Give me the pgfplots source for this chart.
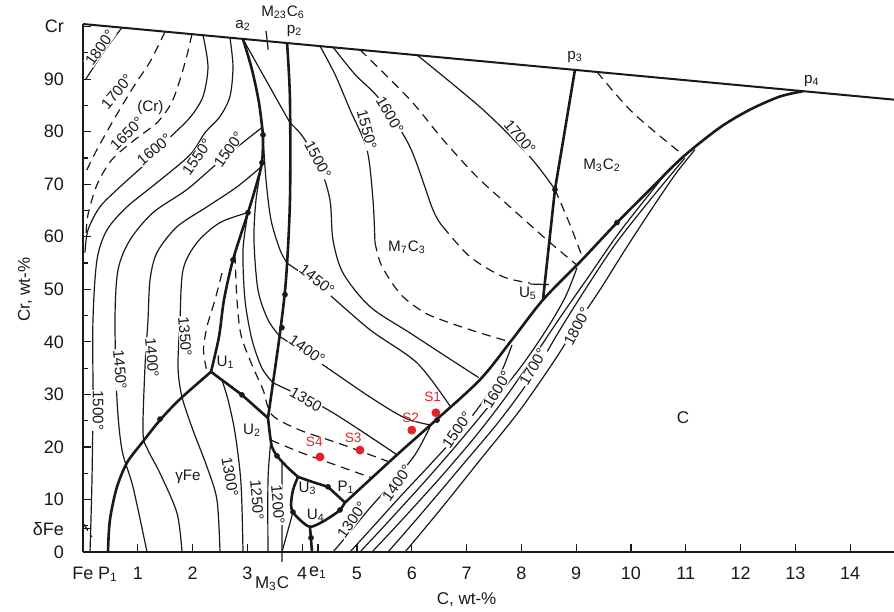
\documentclass[border=0pt]{standalone}
\usepackage{fontspec}
\setmainfont{Liberation Sans}
\usepackage{pgfplots}
\pgfplotsset{compat=1.18}
\definecolor{sred}{RGB}{226,35,40}
\definecolor{ink}{RGB}{25,25,25}
\begin{document}
\begin{tikzpicture}[
  bold/.style={line width=1.3pt, ink},
  iso/.style={line width=0.6pt, ink, smooth, tension=0.5},
  dsh/.style={line width=0.6pt, ink, smooth, tension=0.5, dash pattern=on 4.5pt off 3pt},
  lab/.style={font=\fontsize{7.6}{8}\selectfont, text=ink, fill=white, inner sep=0.3pt},
  plab/.style={font=\fontsize{7.6}{8}\selectfont, text=ink, inner sep=0.5pt},
]
\useasboundingbox (-41.5pt,-29.5pt) rectangle (405.5pt,276pt);
\begin{axis}[
  at={(0pt,0pt)}, anchor=south west,
  scale only axis, width=405.5pt, height=264pt,
  xmin=0, xmax=14.8, ymin=0, ymax=100.5,
  axis x line=bottom, axis y line=left,
  axis line style={-, line width=1pt, ink},
  clip=false,
  xtick={0,0.456,1,2,3,4,4.29,5,6,7,8,9,10,11,12,13,14},
  xticklabels={Fe,P\textsubscript{1},1,2,3,4,e\textsubscript{1},5,6,7,8,9,10,11,12,13,14},
  ytick={0,4.4,10,20,30,40,50,60,70,80,90,100},
  yticklabels={0,δFe,10,20,30,40,50,60,70,80,90,Cr},
  minor ytick={5,15,25,35,45,55,65,75,85,95},
  tick align=inside, major tick length=4pt, minor tick length=2.5pt,
  tick style={line width=0.6pt, ink},
  ticklabel style={font=\fontsize{9}{10}\selectfont, text=ink},
  xticklabel style={yshift=-4pt},
  yticklabel style={xshift=-6pt},
]
% top edge (Cr-C binary)
\addplot[line width=1pt, ink] coordinates {(0,100.5) (14.8,86.1)};
% M23C6 tick
\addplot[line width=0.6pt, ink] coordinates {(3.34,99.2) (3.38,95.6)};

% ---------- bold boundary lines ----------
\addplot[bold, smooth, tension=0.5] coordinates {(0.456,0) (0.474,4.2) (0.511,7.4) (0.620,12.4) (0.803,17.0) (1.077,20.8) (1.405,25.1) (1.770,29.1) (2.336,34.3)};
\addplot[bold, smooth, tension=0.5] coordinates {(2.92,97.6) (3.084,91.8) (3.212,85.5) (3.285,79.4)};
\addplot[bold, smooth, tension=0.5] coordinates {(3.285,79.4) (3.266,74.1) (3.139,69.0) (3.011,64.6) (2.737,55.6) (2.573,48.0) (2.482,41.0) (2.336,34.3)};
\addplot[bold] coordinates {(2.336,34.3) (2.901,29.9) (3.376,25.5)};
\addplot[bold, smooth, tension=0.5] coordinates {(3.723,97.0) (3.777,86.1) (3.777,67.0) (3.704,51.8) (3.595,41.7) (3.467,32.2) (3.376,25.5)};
\addplot[bold, smooth, tension=0.5] coordinates {(3.376,25.5) (3.412,22.3) (3.449,20.0) (3.540,18.3) (3.723,16.2) (3.923,14.3)};
\addplot[bold] coordinates {(3.923,14.3) (4.197,13.3) (4.471,12.4) (4.781,9.4)};
\addplot[bold, smooth, tension=0.5] coordinates {(3.923,14.3) (3.832,11.8) (3.796,9.0) (3.832,7.6) (3.960,6.1) (4.142,4.8) (4.361,5.7) (4.562,7.0) (4.690,8.0) (4.781,9.4)};
\addplot[bold] coordinates {(4.142,4.8) (4.179,0)};
\addplot[bold, smooth, tension=0.5] coordinates {(4.781,9.4) (5.730,18.5) (6.387,24.6) (7.245,32.8) (7.829,40.4) (8.394,48.0) (9.069,55.2) (9.745,62.7) (10.347,69.0) (10.949,75.2) (11.624,80.8) (12.172,84.2) (12.719,86.7) (13.139,87.7)};
\addplot[bold] coordinates {(8.978,91.8) (8.613,69.0) (8.394,48.0)};

% ---------- isotherms, (Cr) and gamma-Fe fields ----------
\addplot[iso] coordinates {(0.71,99.8) (0.40,95.5) (0.05,90.0)};
\addplot[dsh] coordinates {(1.496,99.0) (1.223,93.3) (0.949,89.0) (0.584,82.7) (0.255,76.6) (0.055,72.4)};
\addplot[dsh] coordinates {(1.989,98.6) (1.861,93.1) (1.642,86.1) (1.369,81.9) (0.949,78.5) (0.529,74.7) (0.255,69.9) (0.091,64.2) (0.055,60.4)};
\addplot[iso] coordinates {(2.190,98.4) (2.281,92.4) (2.190,86.7) (1.953,82.7) (1.588,78.9) (1.223,74.7) (0.675,69.5) (0.310,65.7) (0.091,61.3) (0.036,57.0)};
\addplot[iso] coordinates {(2.682,97.9) (2.737,92.4) (2.682,86.7) (2.500,82.9) (2.226,79.8) (1.953,75.6) (1.350,70.3) (0.803,65.7) (0.438,61.3) (0.255,55.6) (0.182,44.2) (0.182,29.0) (0.164,13.7) (0.128,0)};
\addplot[iso] coordinates {(3.266,80.8) (2.865,77.5) (2.464,74.1) (1.898,69.0) (1.277,64.6) (0.858,59.4) (0.639,53.7) (0.584,44.2) (0.620,29.0) (0.712,19.4) (0.912,12.4) (1.168,0)};
\addplot[iso] coordinates {(3.250,73.3) (2.810,69.5) (2.263,65.7) (1.715,61.9) (1.350,57.0) (1.223,51.8) (1.186,44.2) (1.131,35.2) (1.095,22.7) (1.186,19.4) (1.405,15.0) (1.715,7.4) (1.807,0)};
\addplot[iso] coordinates {(3.011,64.6) (2.500,62.7) (2.080,58.9) (1.825,53.7) (1.770,44.2) (1.734,35.2) (1.807,29.5) (2.007,23.2) (2.263,16.2) (2.445,9.9) (2.500,0)};
\addplot[iso] coordinates {(2.536,32.7) (2.646,29.0) (2.774,22.7) (2.883,13.1) (2.920,0)};
\addplot[iso] coordinates {(3.43,21.3) (3.376,13.7) (3.376,0)};
\addplot[iso] coordinates {(3.63,17.2) (3.631,8) (3.631,0)};
\addplot[line width=0.6pt, ink] coordinates {(3.832,7.6) (3.631,0) (3.631,-1.9)};
\addplot[dsh] coordinates {(2.536,53.1) (2.409,48.0) (2.263,42.9) (2.200,38.5) (2.25,34.9)};
\addplot[dsh] coordinates {(0.0,5.5) (0.164,2.9)};
% M23C6 strip
\addplot[iso] coordinates {(3.285,79.4) (3.339,70.9) (3.431,63.2) (3.595,57.5) (3.723,55.0)};
\addplot[iso] coordinates {(3.266,74.1) (3.157,67.0) (3.120,59.4) (3.193,49.9) (3.376,44.2) (3.595,41.0)};
\addplot[iso] coordinates {(3.011,64.6) (2.920,57.5) (2.956,48.0) (3.084,40.4) (3.266,35.0) (3.467,32.2)};

% ---------- isotherms, M7C3 / M3C2 fields ----------
\addplot[line width=0.6pt, ink] coordinates {(2.92,97.6) (3.777,81.7)};
\addplot[iso] coordinates {(3.777,81.7) (4.015,79.0) (4.325,73.3) (4.507,67.0) (4.562,59.4) (4.745,53.1) (5.237,46.7) (5.967,41.7) (6.642,37.1) (7.22,33.2)};
\addplot[iso] coordinates {(3.723,55.0) (4.325,50.5) (5.237,42.3) (6.095,36.0) (6.697,27.8)};
\addplot[iso] coordinates {(3.595,41.0) (4.325,36.0) (5.237,29.5) (5.876,25.5) (6.332,24.2)};
\addplot[iso] coordinates {(3.467,32.2) (4.380,27.6) (5.055,23.2) (5.730,18.5)};
\addplot[iso] coordinates {(4.325,96.3) (4.599,90.9) (4.872,84.2) (5.182,76.6) (5.292,67.0) (5.328,58.9)};
\addplot[dsh] coordinates {(5.328,58.9) (5.420,55.2) (5.602,51.8) (5.839,48.6) (6.241,45.5) (6.697,43.6) (7.245,41.7) (7.792,40.0)};
\addplot[iso] coordinates {(4.562,96.1) (4.964,90.9) (5.420,86.1) (5.967,77.1) (6.387,65.1) (6.569,61.9)};
\addplot[dsh] coordinates {(6.569,61.9) (7.062,56.2) (7.664,52.4) (8.157,51.2)};
\addplot[line width=0.6pt, ink] coordinates {(8.157,51.0) (8.50,50.9)};
\addplot[dsh] coordinates {(5.055,95.6) (5.967,86.1) (6.569,78.5) (7.190,71.4) (7.792,65.7) (8.467,59.4) (9.015,54.6)};
\addplot[iso] coordinates {(6.095,94.6) (7.299,84.2) (8.157,75.2) (8.613,69.0)};
\addplot[dsh] coordinates {(8.613,69.0) (8.887,62.3) (9.124,55.8)};
\addplot[dsh] coordinates {(9.380,91.4) (10.036,83.6) (10.949,75.6)};
\addplot[dsh] coordinates {(2.774,56.6) (2.810,48.0) (2.883,41.3) (3.084,35.6) (3.285,30.9) (3.449,26.1) (3.960,23.2) (4.690,20.6) (5.602,17.1)};
\addplot[dsh] coordinates {(3.43,21.3) (3.960,19.0) (4.599,16.6) (5.274,14.1)};

% ---------- graphite liquidus isotherms ----------
\addplot[iso] coordinates {(4.562,0) (4.872,3.8) (5.237,8.4) (5.639,13.1) (6.058,18.5) (6.332,23.8)};
\addplot[iso] coordinates {(4.872,0) (5.274,4.6) (5.785,10.5) (6.332,16.6) (6.843,22.5) (7.281,28.4) (7.609,33.7) (7.828,39.4)};
\addplot[iso] coordinates {(5.055,0) (5.511,5.1) (6.150,12.4) (6.788,20.0) (7.427,28.0) (7.974,35.0) (8.431,41.9) (8.796,48.4) (9.015,54.1)};
\addplot[iso] coordinates {(5.274,0) (5.785,5.7) (6.515,14.1) (7.153,21.9) (7.701,29.3) (8.248,37.5) (8.704,44.6) (9.252,52.8) (9.799,61.0) (10.602,71.6)};
\addplot[iso] coordinates {(5.566,0) (6.150,7.0) (6.880,16.0) (7.610,25.1) (8.212,33.7) (8.704,42.3) (9.161,49.9) (9.708,58.5) (10.347,67.0) (10.985,75.0)};
\addplot[iso] coordinates {(5.876,0) (6.515,8.0) (7.245,17.5) (7.974,27.0) (8.613,36.6) (9.069,44.2) (9.434,49.9) (9.891,57.5) (10.347,64.8) (10.803,71.8) (11.168,76.6)};

% ---------- dots / arrow marks on the boundary lines ----------
\addplot[only marks, mark=*, mark size=1.2pt, ink] coordinates {(1.405,25.3) (3.285,79.4) (3.266,74.1) (3.011,64.6) (2.737,55.6) (2.901,29.9) (3.686,49.0) (3.631,42.7) (3.540,18.3) (4.471,12.4) (3.832,7.6) (4.690,8.0) (4.161,2.7) (8.613,69.0) (6.460,25.1) (9.745,62.7)};

% ---------- samples ----------
\addplot[only marks, mark=*, mark size=2pt, sred] coordinates {(6.44,26.5) (6.00,23.2) (5.055,19.4) (4.325,18.1)};

% ---------- labels ----------
\node[lab, rotate=55] at (axis cs:0.31,96.0) {1800°};
\node[lab, rotate=50] at (axis cs:0.62,87.6) {1700°};
\node[lab] at (axis cs:1.23,84.6) {(Cr)};
\node[lab, rotate=45] at (axis cs:0.80,79.6) {1650°};
\node[lab, rotate=40] at (axis cs:1.30,76.6) {1600°};
\node[lab, rotate=55] at (axis cs:2.080,75.2) {1550°};
\node[lab, rotate=55] at (axis cs:2.66,76.6) {1500°};
\node[lab, rotate=-90] at (axis cs:0.274,27.0) {1500°};
\node[lab, rotate=-85] at (axis cs:0.675,34.7) {1450°};
\node[lab, rotate=-85] at (axis cs:1.259,37.0) {1400°};
\node[lab, rotate=-85] at (axis cs:1.861,41.0) {1350°};
\node[plab] at (axis cs:1.916,14.3) {γFe};
\node[lab, rotate=-80] at (axis cs:2.682,14.3) {1300°};
\node[lab, rotate=-85] at (axis cs:3.175,9.9) {1250°};
\node[lab, rotate=-85] at (axis cs:3.558,9.0) {1200°};
\node[lab, rotate=-62] at (axis cs:4.288,74.7) {1500°};
\node[lab, rotate=-75] at (axis cs:5.182,80.4) {1550°};
\node[lab, rotate=-60] at (axis cs:5.602,83.2) {1600°};
\node[lab, rotate=-50] at (axis cs:7.974,79.0) {1700°};
\node[lab, rotate=-38] at (axis cs:4.270,51.8) {1450°};
\node[lab, rotate=-35] at (axis cs:4.088,38.5) {1400°};
\node[lab, rotate=-30] at (axis cs:4.069,29.0) {1350};
\node[plab] at (axis cs:5.912,58.1) {M\textsubscript{7}C\textsubscript{3}};
\node[plab] at (axis cs:9.471,73.7) {M\textsubscript{3}C\textsubscript{2}};
\node[plab, font=\fontsize{8.5}{9}\selectfont] at (axis cs:10.949,25.5) {C};
\node[lab, rotate=55] at (axis cs:4.909,6.1) {1300°};
\node[lab, rotate=55] at (axis cs:5.730,13.1) {1400°};
\node[lab, rotate=55] at (axis cs:6.825,23.2) {1500°};
\node[lab, rotate=58] at (axis cs:7.555,30.9) {1600°};
\node[lab, rotate=60] at (axis cs:8.212,35.2) {1700°};
\node[lab, rotate=62] at (axis cs:9.015,42.9) {1800°};
\node[plab] at (axis cs:2.92,100.2) {a\textsubscript{2}};
\node[plab] at (axis cs:3.65,102.7) {M\textsubscript{23}C\textsubscript{6}};
\node[plab] at (axis cs:3.86,99.2) {p\textsubscript{2}};
\node[plab] at (axis cs:8.98,94.3) {p\textsubscript{3}};
\node[plab] at (axis cs:13.30,89.6) {p\textsubscript{4}};
\node[plab] at (axis cs:2.60,36.2) {U\textsubscript{1}};
\node[plab] at (axis cs:3.084,23.2) {U\textsubscript{2}};
\node[plab] at (axis cs:4.10,12.2) {U\textsubscript{3}};
\node[plab] at (axis cs:4.25,7.0) {U\textsubscript{4}};
\node[plab] at (axis cs:8.12,49.3) {U\textsubscript{5}};
\node[plab] at (axis cs:4.80,12.4) {P\textsubscript{1}};
\node[plab, text=sred, font=\fontsize{6.8}{7}\selectfont] at (axis cs:6.38,29.5) {S1};
\node[plab, text=sred, font=\fontsize{6.8}{7}\selectfont] at (axis cs:5.98,25.6) {S2};
\node[plab, text=sred, font=\fontsize{6.8}{7}\selectfont] at (axis cs:4.93,21.8) {S3};
\node[plab, text=sred, font=\fontsize{6.8}{7}\selectfont] at (axis cs:4.22,20.9) {S4};
\node[plab, font=\fontsize{8.5}{10}\selectfont] at (axis cs:3.45,-6.0) {M\textsubscript{3}C};
\node[font=\fontsize{8.5}{10}\selectfont, text=ink] at (axis cs:7.0,-9.1) {C, wt-\%};
\node[rotate=90, font=\fontsize{8.5}{10}\selectfont, text=ink] at (axis cs:-1.06,49.9) {Cr, wt-\%};
\end{axis}
\end{tikzpicture}
\end{document}
